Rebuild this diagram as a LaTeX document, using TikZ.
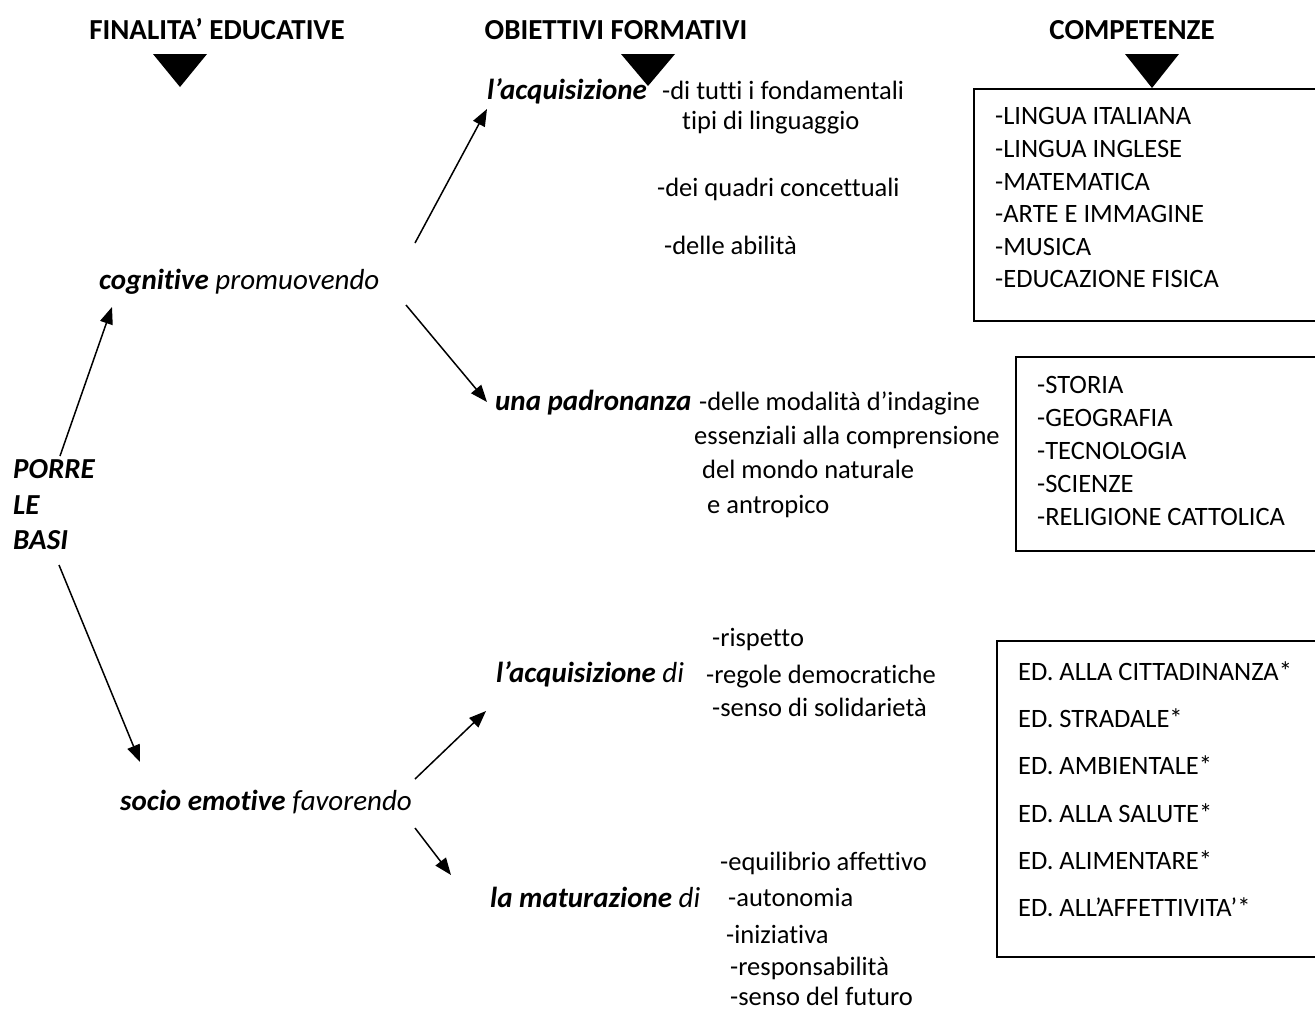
\documentclass[tikz,border=0pt]{standalone}
\usepackage{fontspec}
\setmainfont{Carlito}[Ligatures=NoCommon]
\usetikzlibrary{arrows.meta}
\begin{document}
\begin{tikzpicture}[x=1pt,y=-1pt]
\tikzset{
  body/.style={anchor=west, inner sep=0pt, font=\fontsize{26.5}{32}\selectfont, text height=18pt, text depth=5pt},
  bi/.style={body, font=\fontsize{29}{35}\selectfont\bfseries\itshape},
  lft/.style={body, font=\fontsize{29}{35}\selectfont},
  lftbi/.style={body, font=\fontsize{29}{35}\selectfont\bfseries\itshape},
  hdr/.style={anchor=base, inner sep=0pt, font=\fontsize{29}{35}\selectfont\bfseries},
  arr/.style={line width=1.5pt, -{Triangle[length=17pt,width=13pt]}},
  listbox/.style={draw, line width=2.5pt},
  tri/.style={fill=black}
}
\useasboundingbox (0,0) rectangle (1315,1010);
\fill[white] (0,0) rectangle (1315,1010);
\clip (0,0) rectangle (1315,1010);

% headers
\node[hdr] (h1) at (217,39.5) {FINALITA’ EDUCATIVE};
\node[hdr] (h2) at (616,39.5) {OBIETTIVI FORMATIVI};
\node[hdr] (h3) at (1132,39.5) {COMPETENZE};
\fill[tri] (153,54) -- (207,54) -- (180,87) -- cycle;
\fill[tri] (621,54) -- (675,54) -- (648,86) -- cycle;
\fill[tri] (1125,54) -- (1179,54) -- (1152,88) -- cycle;

% boxes
\draw[listbox] (974,89) rectangle (1340,321);
\draw[listbox] (1016,357) rectangle (1340,551);
\draw[listbox] (997,641) rectangle (1340,957);

% box 1
\node[body] (b11) at (995,118) {-LINGUA ITALIANA};
\node[body] (b12) at (995,151) {-LINGUA INGLESE};
\node[body] (b13) at (995,184) {-MATEMATICA};
\node[body] (b14) at (995,216) {-ARTE E IMMAGINE};
\node[body] (b15) at (995,249) {-MUSICA};
\node[body] (b16) at (995,281) {-EDUCAZIONE FISICA};
% box 2
\node[body] (b21) at (1037,387) {-STORIA};
\node[body] (b22) at (1037,420) {-GEOGRAFIA};
\node[body] (b23) at (1037,453) {-TECNOLOGIA};
\node[body] (b24) at (1037,486) {-SCIENZE};
\node[body] (b25) at (1037,519) {-RELIGIONE CATTOLICA};
% box 3
\node[body] (b31) at (1018,674) {ED. ALLA CITTADINANZA*};
\node[body] (b32) at (1018,721) {ED. STRADALE*};
\node[body] (b33) at (1018,768) {ED. AMBIENTALE*};
\node[body] (b34) at (1018,816) {ED. ALLA SALUTE*};
\node[body] (b35) at (1018,863) {ED. ALIMENTARE*};
\node[body] (b36) at (1018,910) {ED. ALL’AFFETTIVITA’*};

% left column
\node[lftbi] (porre) at (13,472) {PORRE};
\node[lftbi] (le) at (13,508) {LE};
\node[lftbi] (basi) at (13,543) {BASI};
\node[lft] (cog) at (99,283) {\textbf{\textit{cognitive}} \textit{promuovendo}};
\node[lft] (soc) at (120,804) {\textbf{\textit{socio emotive}} \textit{favorendo}};

% middle upper
\node[bi] (acq1) at (487,93) {l’acquisizione};
\node[body] (m1) at (662,93) {-di tutti i fondamentali};
\node[body] (m2) at (682,123) {tipi di linguaggio};
\node[body] (m3) at (657,190) {-dei quadri concettuali};
\node[body] (m4) at (664,248) {-delle abilità};
\node[bi] (una) at (495,404) {una padronanza};
\node[body] (m5) at (699,404) {-delle modalità d’indagine};
\node[body] (m6) at (694,438) {essenziali alla comprensione};
\node[body] (m7) at (702,472) {del mondo naturale};
\node[body] (m8) at (707,507) {e antropico};

% middle lower
\node[body] (r1) at (712,640) {-rispetto};
\node[bi] (acq2) at (496,676) {l’acquisizione \textmd{di}};
\node[body] (r2) at (706,677) {-regole democratiche};
\node[body] (r3) at (712,710) {-senso di solidarietà};
\node[body] (e1) at (720,864) {-equilibrio affettivo};
\node[bi] (mat) at (490,901) {la maturazione \textmd{di}};
\node[body] (e2) at (728,900) {-autonomia};
\node[body] (e3) at (726,937) {-iniziativa};
\node[body] (e4) at (730,969) {-responsabilità};
\node[body] (e5) at (730,999) {-senso del futuro};

% arrow end points
\coordinate (a1s) at (60,456);  \coordinate (a1e) at (112,307);
\coordinate (a2s) at (59,565);  \coordinate (a2e) at (140,762);
\coordinate (a3s) at (415,243); \coordinate (a3e) at (487,109);
\coordinate (a4s) at (406,305); \coordinate (a4e) at (487,402);
\coordinate (a5s) at (415,779); \coordinate (a5e) at (486,711);
\coordinate (a6s) at (415,828); \coordinate (a6e) at (451,875);
\draw[arr] (a1s) -- (a1e);
\draw[arr] (a2s) -- (a2e);
\draw[arr] (a3s) -- (a3e);
\draw[arr] (a4s) -- (a4e);
\draw[arr] (a5s) -- (a5e);
\draw[arr] (a6s) -- (a6e);
\end{tikzpicture}
\end{document}
